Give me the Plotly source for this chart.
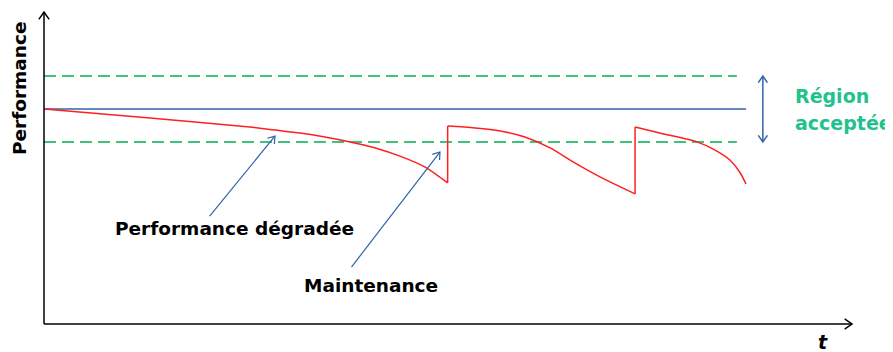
import plotly.graph_objects as go
import math

# ---- data (t in % of horizon, performance normalised: nominal = 1) ----
t_seg1 = [0, 15.1, 29.3, 32.9, 36.5, 40.0, 43.6, 47.2, 50.7, 54.3, 57.5]
p_seg1 = [1.0, 0.958, 0.916, 0.902, 0.888, 0.870, 0.847, 0.819, 0.781, 0.730, 0.656]
t_seg2 = [57.5, 61.4, 65.0, 68.5, 72.1, 75.6, 79.2, 84.2]
p_seg2 = [0.921, 0.912, 0.898, 0.870, 0.819, 0.749, 0.684, 0.605]
t_seg3 = [84.2, 87.7, 93.0, 95.6, 97.7, 99.1, 100.0]
p_seg3 = [0.916, 0.888, 0.847, 0.809, 0.763, 0.707, 0.651]

nominal = 1.0
lower_limit = 0.847
upper_limit = 1.153
t_end_nominal = 100.0
t_end_limits = 98.7

OFF = 8  # page body margin
W, H = 885, 344
XR = [-5.128, 120.94]
YR = [-0.1302, 1.4698]

def to_px(x, y):
    px = (x - XR[0]) / (XR[1] - XR[0]) * W
    py = (YR[1] - y) / (YR[1] - YR[0]) * H
    return px, py

def to_data(px, py):
    x = XR[0] + px / W * (XR[1] - XR[0])
    y = YR[1] - py / H * (YR[1] - YR[0])
    return x, y

fig = go.Figure()

def arrow(x0, y0, x1, y1, color, width=1.5, head=8, both=False):
    fig.add_trace(go.Scatter(x=[x0, x1], y=[y0, y1], mode="lines",
                             line=dict(color=color, width=width),
                             hoverinfo="skip", showlegend=False))
    ends = [(x0, y0, x1, y1)]
    if both:
        ends.append((x1, y1, x0, y0))
    for a0, b0, a1, b1 in ends:
        p0 = to_px(a0, b0)
        p1 = to_px(a1, b1)
        ang = math.atan2(p1[1] - p0[1], p1[0] - p0[0])
        pts = []
        for s in (1, -1):
            a = ang + math.pi + s * math.radians(35)
            pts.append(to_data(p1[0] + head * math.cos(a), p1[1] + head * math.sin(a)))
        fig.add_trace(go.Scatter(x=[pts[0][0], a1, pts[1][0]], y=[pts[0][1], b1, pts[1][1]],
                                 mode="lines", line=dict(color=color, width=width),
                                 hoverinfo="skip", showlegend=False))

# thresholds
for lvl in (upper_limit, lower_limit):
    fig.add_trace(go.Scatter(x=[0, t_end_limits], y=[lvl, lvl], mode="lines",
                             line=dict(color="#00B050", width=1.5, dash="12px,6px"),
                             hoverinfo="skip", showlegend=False))
fig.add_trace(go.Scatter(x=[0, t_end_nominal], y=[nominal, nominal], mode="lines",
                         line=dict(color="#2F64A8", width=1.5),
                         hoverinfo="skip", showlegend=False))

# performance curve: smooth degradation segments + vertical maintenance jumps
red = dict(color="#FF1F1F", width=1.5)
for tt, pp in ((t_seg1, p_seg1), (t_seg2, p_seg2), (t_seg3, p_seg3)):
    fig.add_trace(go.Scatter(x=tt, y=pp, mode="lines",
                             line=dict(shape="spline", smoothing=0.8, **red),
                             hoverinfo="skip", showlegend=False))
for a, b in (((t_seg1[-1], p_seg1[-1]), (t_seg2[0], p_seg2[0])),
             ((t_seg2[-1], p_seg2[-1]), (t_seg3[0], p_seg3[0]))):
    fig.add_trace(go.Scatter(x=[a[0], b[0]], y=[a[1], b[1]], mode="lines", line=red,
                             hoverinfo="skip", showlegend=False))

# axes
arrow(0, 0, 0, 1.451, "black", width=1.5, head=9)
arrow(0, 0, 115.1, 0, "black", width=1.5, head=9)

# accepted region double arrow
arrow(102.4, lower_limit, 102.4, upper_limit, "#2F64A8", width=1.5, head=8, both=True)

# annotation arrows
arrow(23.6, 0.502, 32.9, 0.874, "#2F64A8", width=1.2, head=8)
arrow(43.8, 0.265, 56.4, 0.800, "#2F64A8", width=1.2, head=8)

font_main = "DejaVu Sans, Verdana, sans-serif"
ann = [
    dict(x=-3.4, y=1.098, text="<b>Performance</b>", textangle=-90,
         font=dict(size=18.5, color="black")),
    dict(x=27.2, y=0.442, text="<b>Performance dégradée</b>", font=dict(size=18.5, color="black")),
    dict(x=46.6, y=0.177, text="<b>Maintenance</b>", font=dict(size=18.5, color="black")),
    dict(x=106.7, y=1.060, text="<b>Région</b>", xanchor="left", font=dict(size=19, color="#22C28E")),
    dict(x=106.7, y=0.935, text="<b>acceptée</b>", xanchor="left", font=dict(size=19, color="#22C28E")),
    dict(x=110.9, y=-0.083, text="<i><b>t</b></i>", font=dict(size=19, color="black")),
]
for a in ann:
    a.setdefault("xanchor", "center")
    a.update(showarrow=False, xref="x", yref="y", yanchor="middle")
    a["font"]["family"] = font_main
    fig.add_annotation(**a)

fig.update_layout(
    width=W, height=H, margin=dict(l=0, r=0, t=0, b=0),
    paper_bgcolor="white", plot_bgcolor="white",
    xaxis=dict(range=XR, visible=False, fixedrange=True),
    yaxis=dict(range=YR, visible=False, fixedrange=True),
    showlegend=False,
)
fig.write_html("out.html")
